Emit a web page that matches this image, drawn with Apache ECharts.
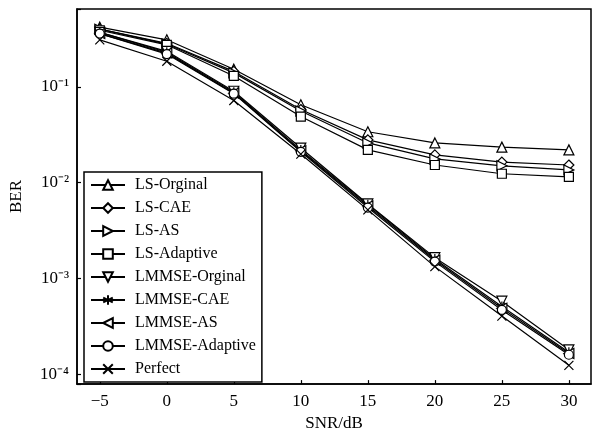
<!DOCTYPE html>
<html>
<head>
<meta charset="utf-8">
<script src="https://cdn.jsdelivr.net/npm/echarts@6/dist/echarts.min.js"></script>
<style>
  html, body { margin: 0; padding: 0; background: #fff; }
  #main { width: 594px; height: 437px; }
</style>
</head>
<body>
<div id="main"></div>
<script>
var snr = [-5, 0, 5, 10, 15, 20, 25, 30]; // X轴
var xTicks = [-5, 0, 5, 10, 15, 20, 25, 30];
var names = ['LS-Orginal', 'LS-CAE', 'LS-AS', 'LS-Adaptive', 'LMMSE-Orginal', 'LMMSE-CAE', 'LMMSE-AS', 'LMMSE-Adaptive', 'Perfect'];
var lsOrginal = [0.42, 0.31, 0.153, 0.065, 0.034, 0.026, 0.0235, 0.022];
var lsCAE = [0.40, 0.285, 0.145, 0.058, 0.028, 0.0195, 0.0164, 0.0153];
var lsAS = [0.40, 0.28, 0.14, 0.056, 0.026, 0.0177, 0.015, 0.0136];
var lsAdaptive = [0.39, 0.275, 0.13, 0.049, 0.022, 0.0153, 0.0124, 0.0115];
var lmmseOrginal = [0.37, 0.235, 0.09, 0.023, 0.006, 0.00165, 0.00058, 0.00018];
var lmmseCAE = [0.37, 0.23, 0.088, 0.022, 0.0059, 0.0016, 0.00051, 0.00017];
var lmmseAS = [0.36, 0.225, 0.086, 0.0215, 0.0057, 0.00155, 0.00049, 0.000165];
var lmmseAdaptive = [0.36, 0.22, 0.085, 0.021, 0.0055, 0.0015, 0.00047, 0.00016];
var perfect = [0.31, 0.185, 0.072, 0.0199, 0.0052, 0.00133, 0.000405, 0.000124];

var allData = [lsOrginal, lsCAE, lsAS, lsAdaptive, lmmseOrginal, lmmseCAE, lmmseAS, lmmseAdaptive, perfect];
// 标记形状
var symbols = ['triangle', 'diamond', 'triangle', 'rect', 'triangle',
    'path://M5,0L5,10M0.67,2.5L9.33,7.5M0.67,7.5L9.33,2.5',
    'triangle', 'circle', 'path://M0,0L10,10M10,0L0,10'];
var rotates = [0, 0, -90, 0, 180, 0, 90, 0, 0];
var sizes = [10, 10, 10, 9, 10, 10, 10, 9, 9];

var font = '"Liberation Serif", "Times New Roman", serif';
var sup = { '-': '⁻', '0': '⁰', '1': '¹', '2': '²', '3': '³', '4': '⁴', '5': '⁵' };

var chart = echarts.init(document.getElementById('main'));

var series = names.map(function (n, i) {
    return {
        name: n,
        type: 'line',
        data: snr.map(function (x, j) { return [x, allData[i][j]]; }),
        symbol: symbols[i],
        symbolSize: sizes[i],
        symbolRotate: rotates[i],
        showAllSymbol: true,
        color: '#000',
        lineStyle: { color: '#000', width: 1.2 },
        itemStyle: { color: '#fff', borderColor: '#000', borderWidth: 1.2 }
    };
});

chart.setOption({
    animation: false,
    backgroundColor: '#fff',
    grid: { left: 77, right: 3, top: 9, bottom: 49, show: true, borderColor: '#000', borderWidth: 1.5 },
    legend: {
        orient: 'vertical',
        left: 84,
        top: 172,
        data: names,
        itemWidth: 34,
        itemHeight: 12,
        itemGap: 7,
        padding: [5, 6, 5, 6],
        borderColor: '#000',
        borderWidth: 1.5,
        backgroundColor: '#fff',
        textStyle: { fontFamily: font, fontSize: 16, color: '#000', padding: [0, 0, 0, 5] }
    },
    xAxis: {
        type: 'value',
        min: -6.7,
        max: 31.65,
        name: 'SNR/dB',
        nameLocation: 'middle',
        nameGap: 29,
        nameTextStyle: { fontFamily: font, fontSize: 17, color: '#000' },
        axisLine: { onZero: false, lineStyle: { color: '#000', width: 1.5 } },
        axisTick: { inside: true, length: 4, customValues: xTicks, lineStyle: { color: '#000', width: 1.2 } },
        axisLabel: {
            customValues: xTicks, margin: 9,
            fontFamily: font, fontSize: 17, color: '#000',
            formatter: function (v) { return v < 0 ? '\u2212' + (-v) : String(v); }
        },
        splitLine: { show: false }
    },
    yAxis: {
        type: 'log',
        logBase: 10,
        min: 7.9e-5,
        max: 0.65,
        name: 'BER',
        nameLocation: 'middle',
        nameGap: 52,
        nameTextStyle: { fontFamily: font, fontSize: 17, color: '#000' },
        axisLine: { onZero: false, lineStyle: { color: '#000', width: 1.5 } },
        axisTick: { inside: true, length: 4, lineStyle: { color: '#000', width: 1.2 } },
        minorTick: { show: false },
        axisLabel: {
            margin: 8,
            fontFamily: font, fontSize: 17, color: '#000',
            formatter: function (v) {
                var e = Math.log10(v);
                var r = Math.round(e);
                if (Math.abs(e - r) > 1e-6) return '';
                return '10' + String(r).split('').map(function (c) { return sup[c]; }).join('');
            }
        },
        splitLine: { show: false }
    },
    series: series
});
</script>
</body>
</html>
